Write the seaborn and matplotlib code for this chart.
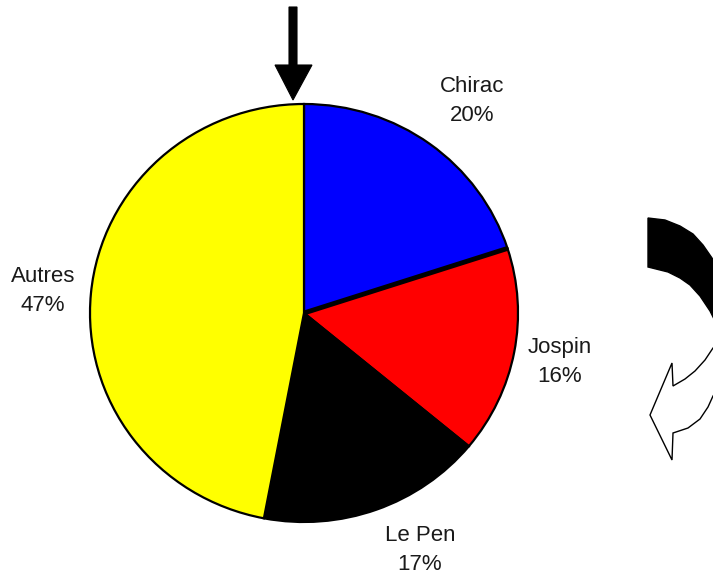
import matplotlib
matplotlib.use("Agg")
import matplotlib.pyplot as plt
from matplotlib.patches import Polygon
import numpy as np
import seaborn as sns

# Vote shares, clockwise from twelve o'clock
candidates = ["Chirac", "Jospin", "Le Pen", "Autres"]
shares = [20, 16, 17, 47]
slice_colors = ["#0000FF", "#FF0000", "#000000", "#FFFF00"]

sns.set_style("white")
plt.rcParams["font.family"] = ["Liberation Sans", "DejaVu Sans"]

W, H = 713, 577
fig = plt.figure(figsize=(W / 100, H / 100), dpi=100)
fig.patch.set_facecolor("white")

# Pixel-space overlay used for annotations and the direction arrows
ov = fig.add_axes([0, 0, 1, 1], zorder=5)
ov.set_xlim(0, W)
ov.set_ylim(H, 0)
ov.axis("off")
ov.patch.set_alpha(0)

# Pie axes: box spans the circle's bounding rectangle in pixels
cx0, cx1, cy0, cy1 = 90, 518, 104, 522
ax = fig.add_axes([cx0 / W, (H - cy1) / H, (cx1 - cx0) / W, (cy1 - cy0) / H])
labels = [f"{c}\n{v}%" for c, v in zip(candidates, shares)]
wedges, texts = ax.pie(
    shares,
    labels=labels,
    colors=slice_colors,
    startangle=90,
    counterclock=False,
    labeldistance=1.23,
    wedgeprops=dict(edgecolor="black", linewidth=1.6),
    textprops=dict(fontsize=16, color="#1a1a1a", linespacing=1.55),
)
ax.set_aspect("auto")
ax.set_xlim(-1, 1)
ax.set_ylim(-1, 1)
ax.axis("off")

# Label anchors (pixel centres) around the rim
label_xy = [(472, 101), (560, 362), (420, 550), (43, 291)]
for t, (px, py) in zip(texts, label_xy):
    t.set_transform(ov.transData)
    t.set_position((px, py))
    t.set_ha("center")
    t.set_va("center")
    t.set_clip_on(False)

# Heavier divider between the first two slices
theta = np.deg2rad(90 - 360 * shares[0] / sum(shares))
ax.plot([0, np.cos(theta)], [0, np.sin(theta)], color="black", lw=3.5,
        solid_capstyle="butt", zorder=3)

# Start marker: downward arrow above the pie
ov.add_patch(Polygon([(289, 7), (297, 7), (297, 65), (312, 65), (293, 100),
                      (275, 65), (289, 65)], closed=True,
                     facecolor="black", edgecolor="black", linewidth=0.8))

# Clockwise curved arrow on the right: dark band fading into an outlined head
ov.add_patch(Polygon([(648, 218), (665, 220), (680, 226), (693, 234), (703, 245),
                      (712, 258), (722, 276), (722, 335), (710, 311), (700, 296),
                      (690, 285), (680, 278), (668, 272), (648, 267)], closed=True,
                     facecolor="black", edgecolor="black", linewidth=1))
ov.add_patch(Polygon([(722, 340), (713, 348), (705, 360), (695, 371), (685, 379),
                      (673, 386), (672, 363), (650, 415), (672, 460), (673, 433),
                      (688, 428), (700, 419), (708, 407), (713, 396), (722, 383)],
                     closed=True, facecolor="white", edgecolor="black", linewidth=1))

fig.savefig("out.png", dpi=100, facecolor="white")
